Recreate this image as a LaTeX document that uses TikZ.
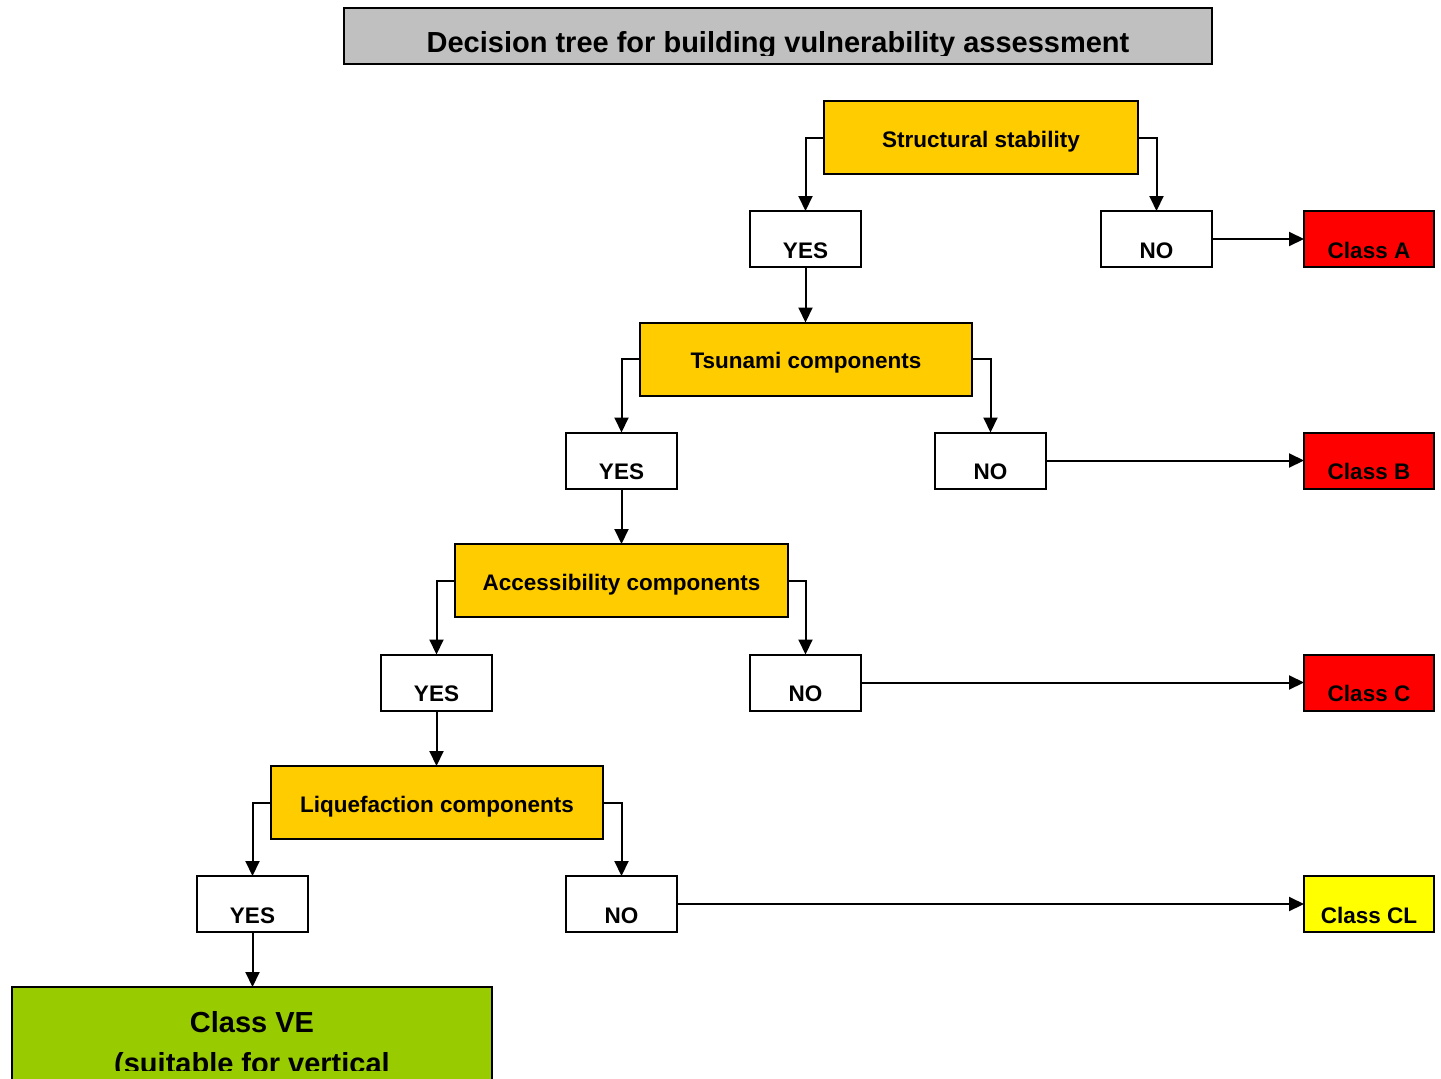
\documentclass[tikz,border=0pt]{standalone}
\usepackage{fontspec}
\setmainfont{Liberation Sans}
\usetikzlibrary{arrows.meta}
\definecolor{gold}{HTML}{FFCC00}
\definecolor{classred}{HTML}{FF0000}
\definecolor{classyellow}{HTML}{FFFF00}
\definecolor{classgreen}{HTML}{99CC00}
\definecolor{titlegray}{HTML}{C0C0C0}
\begin{document}
\begin{tikzpicture}[x=1pt,y=-1pt,
  every node/.style={inner sep=0pt, outer sep=0pt},
  boxtext/.style={font=\fontsize{22.5}{26}\selectfont\bfseries},
  question/.style={boxtext, draw, line width=2pt, fill=gold,
    minimum width=#1, minimum height=73, text height=19, text depth=0},
  answer/.style={boxtext, draw, line width=2pt, fill=white,
    minimum width=111, minimum height=56, text height=38, text depth=0},
  result/.style={boxtext, draw, line width=2pt, fill=#1,
    minimum width=130, minimum height=56, text height=38, text depth=0},
  conn/.style={line width=2pt, -{Triangle[width=14pt,length=15pt]}},
  bigtext/.style={font=\fontsize{29}{34}\selectfont\bfseries, anchor=base}
]
\clip (0,0) rectangle (1441,1079);
\fill[white] (0,0) rectangle (1441,1079);

% heading
\node[draw, line width=2pt, fill=titlegray, minimum width=868, minimum height=56] (title) at (778,36) {};
\begin{scope}
  \clip (344,8) rectangle (1212,55.5);
  \node[bigtext] (titletext) at (778,52) {Decision tree for building vulnerability assessment};
\end{scope}

% level 1
\node[question=314] (ss) at (981,137.5) {Structural stability};
\node[answer] (y1) at (805.5,239) {YES};
\node[answer] (n1) at (1156.5,239) {NO};
\node[result=classred] (cA) at (1369,239) {Class A};

% level 2
\node[question=332] (ts) at (806,359) {Tsunami components};
\node[answer] (y2) at (621.5,460.5) {YES};
\node[answer] (n2) at (990.5,460.5) {NO};
\node[result=classred] (cB) at (1369,460.5) {Class B};

% level 3
\node[question=333] (ac) at (621.5,580.5) {Accessibility components};
\node[answer] (y3) at (436.5,682.5) {YES};
\node[answer] (n3) at (805.5,682.5) {NO};
\node[result=classred] (cC) at (1369,682.5) {Class C};

% level 4
\node[question=332] (lq) at (437,802.5) {Liquefaction components};
\node[answer] (y4) at (252.5,904) {YES};
\node[answer] (n4) at (621.5,904) {NO};
\node[result=classyellow] (cCL) at (1369,904) {Class CL};

% final class
\node[draw, line width=2pt, fill=classgreen, minimum width=480, minimum height=130] (ve) at (252,1052) {};
\begin{scope}
  \clip (12,987) rectangle (492,1070);
  \node[bigtext] (vetext1) at (252,1032) {Class VE};
  \node[bigtext] (vetext2) at (252,1073) {(suitable for vertical};
\end{scope}

% connectors
\draw[conn] (ss.west) -| (y1.north);
\draw[conn] (ss.east) -| (n1.north);
\draw[conn] (n1.east) -- (cA.west);
\draw[conn] (y1.south) -- (y1.south |- ts.north);

\draw[conn] (ts.west) -| (y2.north);
\draw[conn] (ts.east) -| (n2.north);
\draw[conn] (n2.east) -- (cB.west);
\draw[conn] (y2.south) -- (y2.south |- ac.north);

\draw[conn] (ac.west) -| (y3.north);
\draw[conn] (ac.east) -| (n3.north);
\draw[conn] (n3.east) -- (cC.west);
\draw[conn] (y3.south) -- (y3.south |- lq.north);

\draw[conn] (lq.west) -| (y4.north);
\draw[conn] (lq.east) -| (n4.north);
\draw[conn] (n4.east) -- (cCL.west);
\draw[conn] (y4.south) -- (y4.south |- ve.north);
\end{tikzpicture}
\end{document}
